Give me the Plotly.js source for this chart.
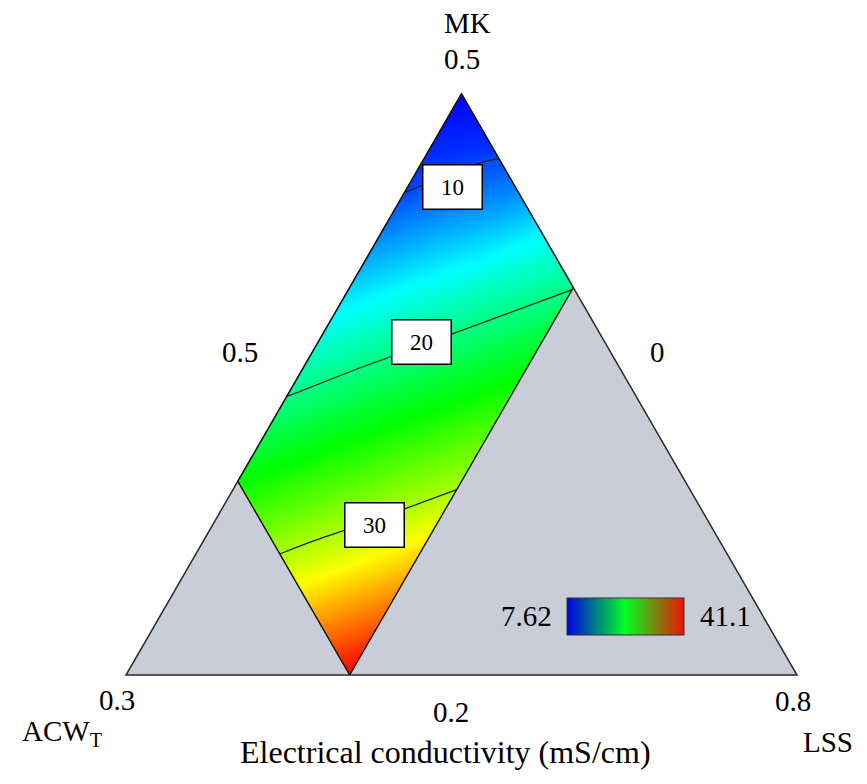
<!DOCTYPE html>
<html>
<head>
<meta charset="utf-8">
<script src="https://cdn.plot.ly/plotly-3.0.1.min.js"></script>
<style>html,body{margin:0;padding:0;background:#fff;}#chart{width:867px;height:784px;}</style>
</head>
<body>
<div id="chart"></div>
<script>
// ---- data ----
// component levels of the feasible region (ACW_T and LSS), MK = 1 - ACW_T - LSS
const acwLevels = [0, 0.05, 0.1, 0.15, 0.2];
const lssLevels = [0.5, 0.525, 0.55, 0.575, 0.6];
// electrical conductivity (mS/cm); rows follow lssLevels, columns follow acwLevels
const conductivity = [
  [7.62, 9.9, 14.6, 19.4, 24.2],
  [9.0, 13.5, 18.4, 23.2, 28.0],
  [12.0, 17.3, 22.1, 26.9, 32.0],
  [16.2, 21.0, 25.8, 30.7, 36.6],
  [19.9, 24.7, 29.5, 35.3, 41.1]
];
const zRange = [7.62, 41.1];
const contourLevels = [10, 20, 30];
// label anchor points of the contour labels (ACW_T, LSS)
const labelAcw = [0.028, 0.082, 0.150];
const labelLss = [0.520, 0.546, 0.5725];
// simplex corner values (MK, ACW_T, LSS): lower bounds and upper bounds
const compNames = ['MK', 'ACW<sub>T</sub>', 'LSS'];
const compMin = [0.2, 0, 0.5];
const compMax = [0.5, 0.3, 0.8];

// ---- ternary (pseudo-component) projection ----
const R = 1 - compMin[0] - compMin[1] - compMin[2];
const H = Math.sqrt(3) / 2;
function proj(acw, lss) {
  const mk = 1 - acw - lss;
  const xm = (mk - compMin[0]) / R;
  const xl = (lss - compMin[2]) / R;
  return [0.5 * xm + xl, H * xm];
}

// carpet coordinates
const cx = lssLevels.map(l => acwLevels.map(a => proj(a, l)[0]));
const cy = lssLevels.map(l => acwLevels.map(a => proj(a, l)[1]));

// outer triangle: MK vertex, ACW vertex, LSS vertex
const triPts = [
  proj(compMin[1], compMin[2]),
  proj(compMax[1], compMin[2]),
  proj(compMin[1], compMax[2])
];
const triPath = 'M' + triPts.map(p => p[0] + ',' + p[1]).join(' L') + ' Z';

const rainbow = [[0, '#0000ff'], [0.25, '#00ffff'], [0.5, '#00ff00'], [0.75, '#ffff00'], [1, '#ff0000']];
const legendScale = [[0, '#0000e6'], [0.5, '#00ff22'], [1, '#f01000']];

const axisHidden = {
  showgrid: false, showline: false, showticklabels: 'none',
  startline: true, endline: true, startlinecolor: '#111', endlinecolor: '#111',
  startlinewidth: 1.4, endlinewidth: 1.4, smoothing: 0, minorgridcount: 0,
  gridcolor: 'rgba(0,0,0,0)'
};

const traces = [
  {
    type: 'carpet', carpet: 'mix',
    a: acwLevels, b: lssLevels, x: cx, y: cy,
    aaxis: axisHidden, baxis: axisHidden,
    hoverinfo: 'skip'
  },
  {
    type: 'contourcarpet', carpet: 'mix',
    a: acwLevels, b: lssLevels, z: conductivity,
    autocontour: false,
    contours: {start: zRange[0], end: zRange[1], size: 0.2, coloring: 'fill', showlines: false},
    line: {width: 0, smoothing: 0},
    colorscale: rainbow, zmin: zRange[0], zmax: zRange[1],
    showscale: false, hoverinfo: 'skip'
  },
  {
    type: 'contourcarpet', carpet: 'mix',
    a: acwLevels, b: lssLevels, z: conductivity,
    autocontour: false,
    contours: {start: contourLevels[0], end: contourLevels[contourLevels.length - 1],
               size: contourLevels[1] - contourLevels[0], coloring: 'none'},
    line: {color: '#1a221a', width: 1.2, smoothing: 1},
    showscale: false, hoverinfo: 'skip'
  },
  {
    type: 'scatter', mode: 'markers',
    x: [proj(acwLevels[0], lssLevels[0])[0], proj(acwLevels[4], lssLevels[4])[0]],
    y: [proj(acwLevels[0], lssLevels[0])[1], proj(acwLevels[4], lssLevels[4])[1]],
    marker: {
      size: 1, opacity: 0, color: zRange, cmin: zRange[0], cmax: zRange[1],
      colorscale: legendScale, showscale: true,
      colorbar: {
        orientation: 'h', x: 625.5 / 867, xanchor: 'center', y: 1 - 617 / 784, yanchor: 'middle',
        lenmode: 'pixels', len: 117, thickness: 37, xpad: 0, ypad: 0,
        outlinewidth: 1, outlinecolor: '#333', showticklabels: false, ticks: '',
        bgcolor: 'rgba(0,0,0,0)', borderwidth: 0
      }
    },
    hoverinfo: 'skip'
  }
];

const FONT = "'Liberation Serif', 'Times New Roman', serif";
function lab(text, px, py, size) {
  return {text: text, xref: 'paper', yref: 'paper', x: px / 867, y: 1 - py / 784,
          xanchor: 'center', yanchor: 'middle', showarrow: false,
          font: {family: FONT, size: size || 29, color: '#000'}};
}
const annotations = [
  lab(compNames[0], 467, 23),
  lab(String(compMax[0]), 462, 59),
  lab(String(compMin[2]), 240, 352),
  lab(String(compMin[1]), 657, 352),
  lab(String(compMax[1]), 117, 700),
  lab(compNames[1], 62, 733),
  lab(String(compMin[0]), 451, 712),
  lab(String(compMax[2]), 793, 701),
  lab(compNames[2], 828, 742),
  lab('Electrical conductivity (mS/cm)', 446, 752, 32),
  lab(String(zRange[0]), 526, 616),
  lab(String(zRange[1]), 725, 616)
];
contourLevels.forEach((lv, i) => {
  const p = proj(labelAcw[i], labelLss[i]);
  annotations.push({
    text: String(lv), x: p[0], y: p[1], xref: 'x', yref: 'y',
    showarrow: false, xanchor: 'center', yanchor: 'middle',
    width: 58, height: 43, borderpad: 0,
    bgcolor: '#ffffff', bordercolor: '#000000', borderwidth: 1.5,
    font: {family: FONT, size: 23, color: '#000'}
  });
});

const layout = {
  width: 867, height: 784,
  margin: {l: 0, r: 0, t: 0, b: 0},
  paper_bgcolor: '#ffffff', plot_bgcolor: '#ffffff',
  font: {family: FONT, color: '#000'},
  showlegend: false, hovermode: false,
  xaxis: {range: [-126 / 671, (867 - 126) / 671], visible: false, fixedrange: true},
  yaxis: {range: [(675 - 784) / 671, 675 / 671], visible: false, fixedrange: true},
  shapes: [{
    type: 'path', path: triPath, xref: 'x', yref: 'y', layer: 'below',
    fillcolor: '#c9cdd8', line: {color: '#2a2a2a', width: 1.5}
  }],
  annotations: annotations
};

Plotly.newPlot('chart', traces, layout, {staticPlot: true, displayModeBar: false});
</script>
</body>
</html>
